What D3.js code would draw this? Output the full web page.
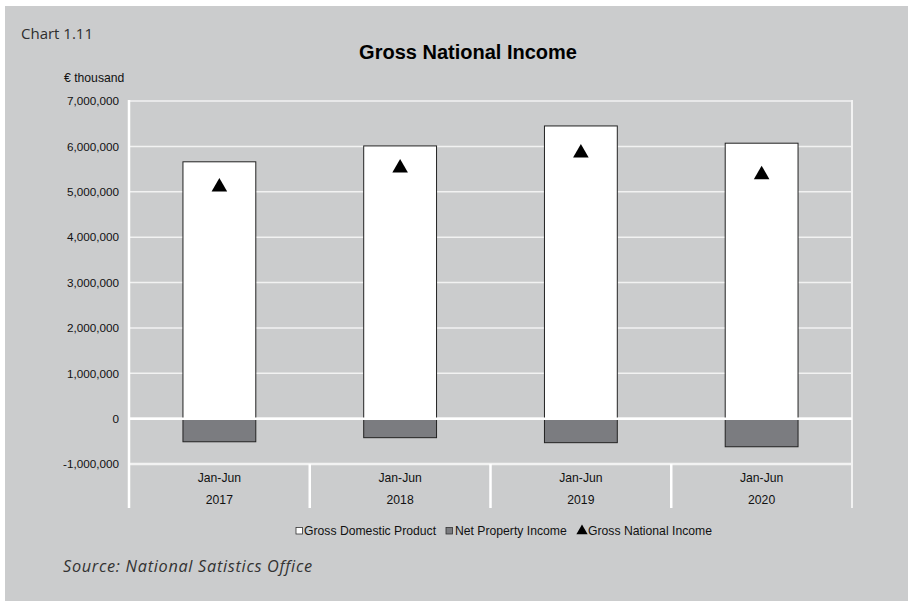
<!DOCTYPE html>
<html><head><meta charset="utf-8">
<script src="https://cdn.jsdelivr.net/npm/d3@7"></script>
<style>body{margin:0;background:#fff}svg{display:block}</style>
</head><body>
<script>
const periods = ["Jan-Jun","Jan-Jun","Jan-Jun","Jan-Jun"];
const years = ["2017","2018","2019","2020"];
const gdp = [5660000, 6010000, 6450000, 6070000];
const npi = [-510000, -420000, -530000, -620000];
const gni = [5150000, 5570000, 5900000, 5420000];
const yTicks = [-1000000,0,1000000,2000000,3000000,4000000,5000000,6000000,7000000];
const seriesNames = ["Gross Domestic Product","Net Property Income","Gross National Income"];

(function(){
const W=908,H=601;
const svg=d3.select("body").append("svg").attr("width",W).attr("height",H);
svg.append("rect").attr("x",5).attr("y",6).attr("width",W-5).attr("height",H-6).attr("fill","#cbcccd");

const pL=129,pR=852,pT=101,pB=464;
const x=d3.scaleBand().domain(years).range([pL,pR]).padding(0);
const y=d3.scaleLinear().domain([-1000000,7000000]).range([pB,pT]);
const font="'Liberation Sans', Arial, sans-serif";
const fmt=d=>d3.format(",")(d).replace("\u2212","-");

// gridlines
svg.append("g").selectAll("line").data(yTicks).join("line")
  .attr("x1",pL).attr("x2",pR).attr("y1",d=>y(d)).attr("y2",d=>y(d))
  .attr("stroke","#f2f2f2").attr("stroke-width",d=>(d===0||d===-1000000)?2.5:1.5);

// y axis labels
const yAxis=d3.axisLeft(y).tickValues(yTicks).tickSize(0).tickPadding(10).tickFormat(fmt);
const ga=svg.append("g").attr("transform",`translate(${pL},0)`).call(yAxis);
ga.select(".domain").remove();
ga.selectAll("text").attr("font-family",font).attr("font-size",11.7).attr("fill","#111");

// axis frame lines
svg.append("line").attr("x1",pL).attr("x2",pL).attr("y1",pT-1).attr("y2",508).attr("stroke","#fff").attr("stroke-width",2.5);
svg.append("line").attr("x1",pR).attr("x2",pR).attr("y1",pT-1).attr("y2",508).attr("stroke","#f2f2f2").attr("stroke-width",2);
svg.append("g").selectAll("line").data(years.slice(1)).join("line")
  .attr("x1",d=>x(d)).attr("x2",d=>x(d)).attr("y1",pB).attr("y2",508)
  .attr("stroke","#fff").attr("stroke-width",2.5);

const bw=x.bandwidth()*0.403;
// GDP bars
svg.append("g").selectAll("rect").data(gdp).join("rect")
  .attr("x",(d,i)=>x(years[i])+x.bandwidth()/2-bw/2).attr("width",bw)
  .attr("y",d=>y(d)).attr("height",d=>y(0)-y(d))
  .attr("fill","#fff").attr("stroke","#222").attr("stroke-width",1);
// NPI bars
svg.append("g").selectAll("rect").data(npi).join("rect")
  .attr("x",(d,i)=>x(years[i])+x.bandwidth()/2-bw/2).attr("width",bw)
  .attr("y",y(0)).attr("height",d=>y(d)-y(0))
  .attr("fill","#7b7c80").attr("stroke","#222").attr("stroke-width",1);
// re-draw zero line over bars
svg.append("line").attr("x1",pL).attr("x2",pR).attr("y1",y(0)).attr("y2",y(0)).attr("stroke","#fff").attr("stroke-width",2.5);
// GNI markers (offset so the triangle's box is centred on the value)
const tri=d3.symbol().type(d3.symbolTriangle).size(105);
svg.append("g").selectAll("path").data(gni).join("path")
  .attr("d",tri).attr("transform",(d,i)=>`translate(${x(years[i])+x.bandwidth()/2},${y(d)+2})`)
  .attr("fill","#000");

// category labels
const cat=svg.append("g").attr("font-family",font).attr("font-size",12.2).attr("fill","#111").attr("text-anchor","middle");
cat.selectAll("text.p").data(periods).join("text").attr("class","p")
  .attr("x",(d,i)=>x(years[i])+x.bandwidth()/2).attr("y",482).text(d=>d);
cat.selectAll("text.yr").data(years).join("text").attr("class","yr")
  .attr("x",d=>x(d)+x.bandwidth()/2).attr("y",504).text(d=>d);

// titles
svg.append("text").attr("x",21).attr("y",39).attr("font-family","'Open Sans', sans-serif").attr("font-size",15).attr("font-weight",400).attr("fill","#2e2e2e").text("Chart 1.11");
svg.append("text").attr("x",468).attr("y",59).attr("text-anchor","middle").attr("font-family",font).attr("font-weight","bold").attr("font-size",20).attr("fill","#000").text("Gross National Income");
svg.append("text").attr("x",64).attr("y",82).attr("font-family",font).attr("font-size",12.2).attr("fill","#111").text("€ thousand");

// legend
const lg=svg.append("g").attr("font-family",font).attr("font-size",12.2).attr("fill","#111");
lg.append("rect").attr("x",296).attr("y",527.5).attr("width",6.5).attr("height",6.5).attr("fill","#fff").attr("stroke","#333").attr("stroke-width",0.8);
lg.append("text").attr("x",304).attr("y",535).text(seriesNames[0]);
lg.append("rect").attr("x",446).attr("y",527.5).attr("width",6.5).attr("height",6.5).attr("fill","#7b7c80").attr("stroke","#333").attr("stroke-width",0.8);
lg.append("text").attr("x",455).attr("y",535).text(seriesNames[1]);
lg.append("path").attr("d",d3.symbol().type(d3.symbolTriangle).size(55)).attr("transform","translate(582,531)").attr("fill","#000");
lg.append("text").attr("x",588).attr("y",535).text(seriesNames[2]);

svg.append("text").attr("x",63).attr("y",572).attr("font-family","'Open Sans', sans-serif").attr("font-style","italic").attr("font-size",16.3).attr("letter-spacing",0.7).attr("fill","#333").text("Source: National Satistics Office");
})();
</script>
</body></html>
